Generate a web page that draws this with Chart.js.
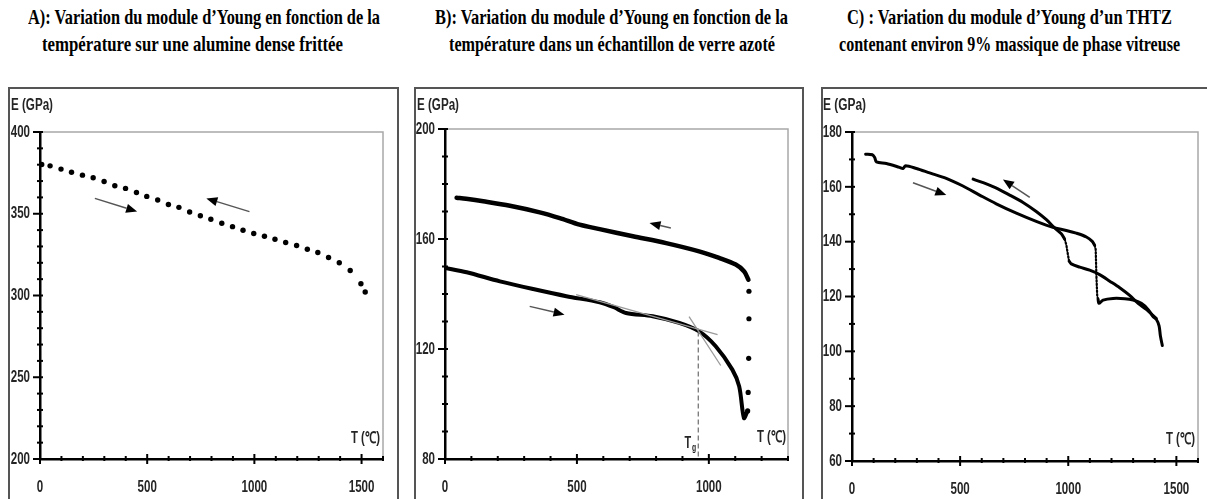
<!DOCTYPE html>
<html>
<head>
<meta charset="utf-8">
<script src="https://cdn.jsdelivr.net/npm/chart.js@4.4.1/dist/chart.umd.min.js"></script>
<style>
  body { margin: 0; width: 1207px; height: 499px; background: #fff; position: relative; overflow: hidden; }
  .frame { position: absolute; top: 87px; height: 440px; border: 2px solid #555; box-sizing: border-box; }
  .title { position: absolute; font-family: "Liberation Serif", "Times New Roman", serif; font-weight: bold;
           font-size: 22px; line-height: 22px; white-space: nowrap; transform-origin: left top; color: #000; }
  .ax { position: absolute; font-family: "Liberation Sans", Arial, sans-serif;
        font-weight: bold; font-size: 16px; line-height: 16px; color: #252525; white-space: nowrap; transform-origin: left top; }
  canvas { position: absolute; }
</style>
</head>
<body>

<div class="frame" style="left:8px;width:391px"></div>
<div class="frame" style="left:414px;width:390px"></div>
<div class="frame" style="left:821px;width:400px"></div>

<div class="title fit" style="left:28px;top:6px" data-w="352">A): Variation du module d’Young en fonction de la</div>
<div class="title fit" style="left:42px;top:33px" data-w="301">température sur une alumine dense frittée</div>
<div class="title fit" style="left:435px;top:6px" data-w="353">B): Variation du module d’Young en fonction de la</div>
<div class="title fit" style="left:449px;top:33px" data-w="326">température dans un échantillon de verre azoté</div>
<div class="title fit" style="left:847px;top:6px" data-w="325">C) : Variation du module d’Young d’un THTZ</div>
<div class="title fit" style="left:839px;top:33px" data-w="341">contenant environ 9% massique de phase vitreuse</div>

<canvas id="chartA" width="389" height="411" style="left:9px;top:88px"></canvas>
<canvas id="chartB" width="388" height="411" style="left:415px;top:88px"></canvas>
<canvas id="chartC" width="385" height="411" style="left:822px;top:88px"></canvas>

<div class="ax fit" style="left:11px;top:97px" data-w="42">E (GPa)</div>
<div class="ax fit" style="left:417px;top:97px" data-w="42">E (GPa)</div>
<div class="ax fit" style="left:823px;top:97px" data-w="43">E (GPa)</div>
<div class="ax fit" style="left:351px;top:430px" data-w="29">T (℃)</div>
<div class="ax fit" style="left:757px;top:429px" data-w="29">T (℃)</div>
<div class="ax fit" style="left:1166px;top:431px" data-w="29">T (℃)</div>

<script>
// ---- A: alumine dense frittée ----
const tempA = [8, 47, 98, 147, 198, 248, 299, 349, 399, 450, 498, 549, 599, 648, 698, 748, 797, 848,
               898, 947, 997, 1047, 1096, 1146, 1197, 1247, 1296, 1346, 1396, 1447, 1497, 1517];
const modA = [380.1, 379.3, 377.3, 375.4, 373.6, 372.0, 369.7, 367.1, 365.5, 363.0, 360.6, 358.4, 355.7,
              353.9, 351.1, 348.8, 346.6, 344.2, 342.1, 339.9, 337.9, 336.2, 334.4, 332.4, 330.6, 328.3,
              326.3, 323.2, 320.0, 315.3, 307.2, 302.1];
const xLabelsA = [0, 500, 1000, 1500];
const yLabelsA = [200, 250, 300, 350, 400];
const arrowsA = [[256, 359.4, 453, 351.3], [977, 351.3, 776, 359.4]];

// ---- B: verre azoté ----
const tempBCool = [44, 80, 145, 246, 359, 435, 510, 586, 712, 838, 963, 1039, 1102, 1134, 1150];
const modBCool = [175.0, 174.6, 173.7, 172.1, 169.7, 167.6, 165.2, 163.6, 161.0, 158.5, 155.5, 153.1, 150.7, 148.2, 145.2];
const tempBDrop = [1152, 1152, 1151, 1149, 1147];
const modBDrop = [141.0, 131.0, 116.6, 104.2, 97.5];
const tempBHeat = [0, 82, 208, 334, 460, 586, 640, 686, 787, 888, 963, 1026, 1089, 1115, 1133, 1146];
const modBHeat = [149.5, 147.9, 144.6, 141.8, 139.2, 137.0, 135.2, 133.1, 131.9, 129.5, 126.4, 121.0, 112.5, 106.4, 94.9, 97.3];
const xLabelsB = [0, 500, 1000];
const yLabelsB = [80, 120, 160, 200];
const arrowsB = [[321, 135.5, 453, 132.5], [856, 164.0, 775, 165.8]];
const tangentsB = [[497, 139.8, 1033, 125.2], [925, 131.8, 1045, 114.0]];
const tgLineB = [960, 126.4, 960, 80];
const tgLabelB = [908, 84.0];

// ---- C: THTZ 9% phase vitreuse ----
const tempCHeat1 = [63, 94, 105, 113, 159, 220, 236, 248, 298, 359, 436, 513, 590, 667, 760, 852, 929, 991,
                    1037, 1084, 1111, 1122];
const modCHeat1 = [171.9, 171.7, 170.7, 169.1, 168.5, 167.1, 166.7, 167.7, 166.7, 165.1, 163.1, 160.3, 157.0,
                   153.8, 150.4, 147.4, 145.2, 144.1, 143.1, 141.7, 140.1, 138.7];
const tempCHeatDrop = [1122, 1127, 1130, 1134, 1138];
const modCHeatDrop = [138.7, 137.1, 128.0, 120.2, 119.0];
const tempCHeat2 = [1138, 1142, 1161, 1207, 1261, 1300, 1338, 1369, 1392, 1407, 1420, 1426, 1435];
const modCHeat2 = [119.0, 117.5, 118.7, 119.3, 119.2, 118.7, 117.5, 115.3, 112.7, 111.7, 109.3, 105.7, 102.1];
const tempCCool1 = [1407, 1361, 1323, 1284, 1238, 1192, 1145, 1099, 1053, 1014, 1004];
const modCCool1 = [112.0, 115.3, 117.5, 120.4, 123.2, 125.6, 128.0, 129.6, 130.7, 131.9, 132.9];
const tempCCoolRise = [1004, 999, 991, 983];
const modCCoolRise = [132.9, 135.0, 138.9, 141.0];
const tempCCool2 = [983, 968, 937, 899, 852, 791, 729, 652, 560];
const modCCool2 = [141.0, 142.9, 145.0, 148.0, 151.0, 154.3, 157.0, 160.1, 162.8];
const xLabelsC = [0, 500, 1000, 1500];
const yLabelsC = [60, 80, 100, 120, 140, 160, 180];
const arrowsC = [[282, 161.5, 436, 157.0], [822, 156.2, 698, 162.7]];

const labelFont = 'bold 17px "Liberation Sans", Arial, sans-serif';
const squeeze = 0.68; // the figure uses a narrow face

const pts = (xs, ys) => xs.map((x, i) => ({ x, y: ys[i] }));

function narrowText(ctx, txt, x, y, align, baseline) {
  ctx.save();
  ctx.translate(x, y);
  ctx.scale(squeeze, 1);
  ctx.textAlign = align;
  ctx.textBaseline = baseline;
  ctx.fillText(txt, 0, 0);
  ctx.restore();
}

// grey frame of the plot, annotations, crossing tick marks and narrow tick labels
const notesPlugin = {
  id: 'notes',
  beforeDraw(chart) {
    const { ctx, chartArea: a } = chart;
    ctx.save();
    ctx.strokeStyle = '#a8a8a8';
    ctx.lineWidth = 1.5;
    ctx.strokeRect(a.left, a.top, a.right - a.left, a.bottom - a.top);
    ctx.restore();
  },
  afterDatasetsDraw(chart, args, opts) {
    const { ctx, scales: { x, y } } = chart;
    const px = v => x.getPixelForValue(v), py = v => y.getPixelForValue(v);
    ctx.save();
    (opts.lines || []).forEach(l => {
      ctx.strokeStyle = l.color;
      ctx.lineWidth = l.width;
      ctx.setLineDash(l.dash || []);
      ctx.beginPath();
      ctx.moveTo(px(l.pts[0]), py(l.pts[1]));
      ctx.lineTo(px(l.pts[2]), py(l.pts[3]));
      ctx.stroke();
    });
    ctx.setLineDash([]);
    (opts.arrows || []).forEach(([x1, y1, x2, y2]) => {
      const X1 = px(x1), Y1 = py(y1), X2 = px(x2), Y2 = py(y2);
      const ang = Math.atan2(Y2 - Y1, X2 - X1);
      const head = 11, half = 4.5;
      const bx = X2 - head * Math.cos(ang), by = Y2 - head * Math.sin(ang);
      ctx.strokeStyle = '#555';
      ctx.lineWidth = 1.5;
      ctx.beginPath();
      ctx.moveTo(X1, Y1);
      ctx.lineTo(bx, by);
      ctx.stroke();
      ctx.fillStyle = '#000';
      ctx.beginPath();
      ctx.moveTo(X2, Y2);
      ctx.lineTo(bx + half * Math.sin(ang), by - half * Math.cos(ang));
      ctx.lineTo(bx - half * Math.sin(ang), by + half * Math.cos(ang));
      ctx.closePath();
      ctx.fill();
    });
    if (opts.tg) {
      const tx = px(opts.tg[0]), ty = py(opts.tg[1]);
      ctx.fillStyle = '#252525';
      ctx.font = 'bold 16px "Liberation Sans", Arial, sans-serif';
      narrowText(ctx, 'T', tx, ty, 'left', 'alphabetic');
      ctx.font = 'bold 10px "Liberation Sans", Arial, sans-serif';
      narrowText(ctx, 'g', tx + 7.5, ty + 3, 'left', 'alphabetic');
    }
    ctx.restore();
  },
  afterDraw(chart) {
    const { ctx, scales: { x, y } } = chart;
    ctx.save();
    ctx.strokeStyle = '#000';
    ctx.lineWidth = 2;
    x.ticks.forEach(t => {
      const p = x.getPixelForValue(t.value), major = t.label !== '';
      ctx.beginPath();
      ctx.moveTo(p, x.top - (major ? 5 : 3));
      ctx.lineTo(p, x.top + (major ? 5 : 2));
      ctx.stroke();
    });
    y.ticks.forEach(t => {
      const p = y.getPixelForValue(t.value), major = t.label !== '';
      ctx.beginPath();
      ctx.moveTo(y.right - (major ? 7 : 3), p);
      ctx.lineTo(y.right + 3, p);
      ctx.stroke();
    });
    ctx.fillStyle = '#252525';
    ctx.font = labelFont;
    x.ticks.forEach(t => {
      if (t.label !== '') narrowText(ctx, t.label, x.getPixelForValue(t.value), x.top + 28, 'center', 'middle');
    });
    y.ticks.forEach(t => {
      if (t.label !== '') narrowText(ctx, t.label, y.right - 10, y.getPixelForValue(t.value), 'right', 'middle');
    });
    ctx.restore();
  }
};
Chart.register(notesPlugin);

function axis(min, max, step, labels, size, isX) {
  return {
    type: 'linear', min, max,
    grid: { display: false },
    border: { display: true, color: '#000', width: 2.5 },
    ticks: {
      display: false, stepSize: step, autoSkip: false, maxRotation: 0,
      callback: v => labels.includes(v) ? String(v) : ''
    },
    afterFit: s => { if (isX) s.height = size; else s.width = size; }
  };
}

function makeChart(id, datasets, xs, ys, padding, notes) {
  return new Chart(document.getElementById(id), {
    type: 'scatter',
    data: { datasets },
    options: {
      responsive: false, animation: false,
      layout: { padding },
      scales: { x: xs, y: ys },
      plugins: { legend: { display: false }, tooltip: { enabled: false }, notes },
      elements: { point: { radius: 0 } }
    }
  });
}

const lineSet = (xs, ys, width, extra) => Object.assign({
  data: pts(xs, ys), showLine: true, borderColor: '#000', borderWidth: width,
  pointRadius: 0, tension: 0.3, borderCapStyle: 'round', borderJoinStyle: 'round'
}, extra || {});
const dotSet = (xs, ys, r) => ({
  data: pts(xs, ys), showLine: false, pointRadius: r, pointBackgroundColor: '#000', pointBorderWidth: 0
});

makeChart('chartA',
  [dotSet(tempA, modA, 2.7)],
  axis(0, 1600, 100, xLabelsA, 40, true),
  axis(200, 400, 10, yLabelsA, 31, false),
  { top: 44, right: 15, left: 0, bottom: 0 },
  { arrows: arrowsA });

makeChart('chartB',
  [lineSet(tempBCool, modBCool, 4.5),
   lineSet(tempBHeat, modBHeat, 4),
   dotSet(tempBDrop, modBDrop, 2.6)],
  axis(0, 1300, 100, xLabelsB, 40, true),
  axis(80, 200, 10, yLabelsB, 30, false),
  { top: 41, right: 15, left: 0, bottom: 0 },
  {
    arrows: arrowsB,
    lines: [
      { pts: tangentsB[0], color: '#9a9a9a', width: 1.3 },
      { pts: tangentsB[1], color: '#9a9a9a', width: 1.3 },
      { pts: tgLineB, color: '#777', width: 1.3, dash: [5, 3] }
    ],
    tg: tgLabelB
  });

makeChart('chartC',
  [lineSet(tempCHeat1, modCHeat1, 3),
   lineSet(tempCHeatDrop, modCHeatDrop, 2.2, { borderDash: [1.5, 2], tension: 0 }),
   lineSet(tempCHeat2, modCHeat2, 3),
   lineSet(tempCCool1, modCCool1, 3),
   lineSet(tempCCoolRise, modCCoolRise, 2.2, { borderDash: [1.5, 2], tension: 0 }),
   lineSet(tempCCool2, modCCool2, 3)],
  axis(0, 1600, 100, xLabelsC, 38, true),
  axis(60, 180, 10, yLabelsC, 30, false),
  { top: 44, right: 9, left: 0, bottom: 0 },
  { arrows: arrowsC });

// squeeze each text line to the width it has in the figure
document.querySelectorAll('.fit').forEach(el => {
  const natural = el.getBoundingClientRect().width;
  el.style.transform = 'scaleX(' + (Number(el.dataset.w) / natural).toFixed(4) + ')';
});
</script>
</body>
</html>
